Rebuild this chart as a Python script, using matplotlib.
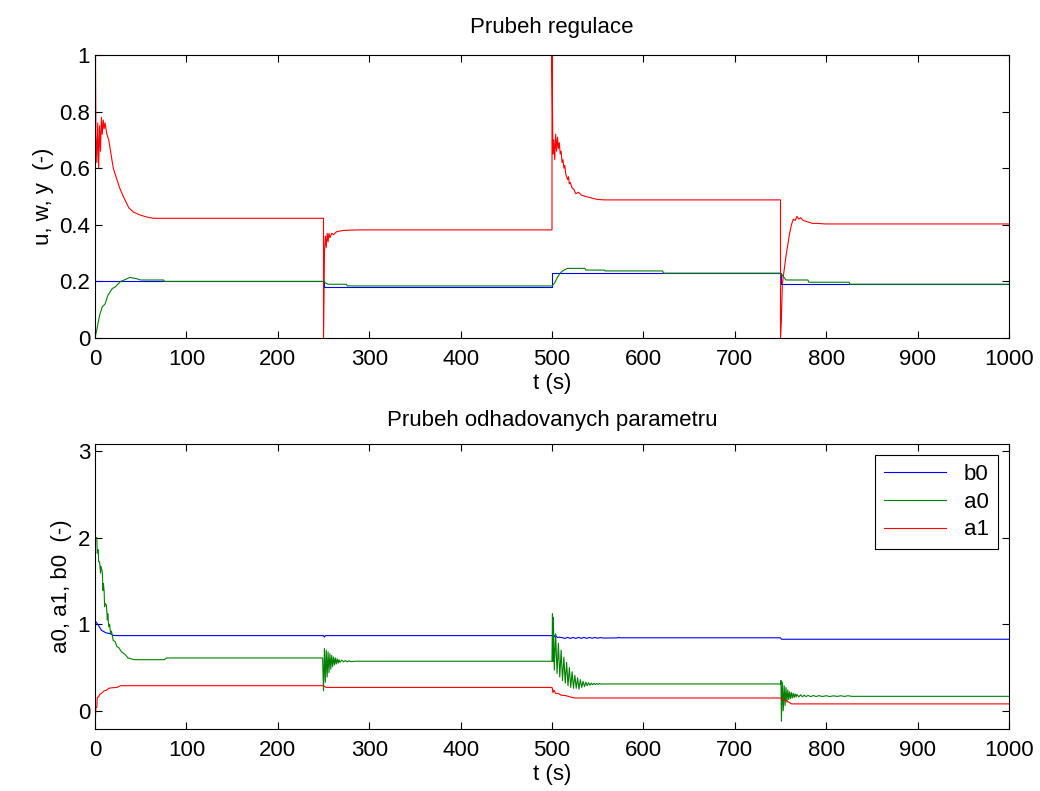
import matplotlib
matplotlib.use("Agg")
import matplotlib.pyplot as plt
import numpy as np

plt.rcParams['font.family'] = ['Liberation Sans', 'DejaVu Sans']

# ---------------- top plot: u (red), w (blue), y (green) ----------------
u_t = [0, 0.5, 1, 2, 3, 4, 5, 6, 7, 8, 9, 10, 11, 13, 15, 17, 20, 22, 24, 27, 31, 34, 37, 42, 49, 56, 64,
       250, 250, 251, 252, 253, 254, 255, 256, 257, 259, 261, 264, 268, 272, 278, 290, 300,
       500, 500, 501, 502, 503, 504, 505, 506, 507, 508, 509, 510, 511, 512, 513, 514, 515, 516, 517, 518, 519, 520,
       522, 524, 526, 529, 532, 537, 543, 549, 557,
       750, 750, 751, 752, 754, 756, 758, 760, 762, 764, 766, 768, 770, 772, 775, 780, 785, 790, 799, 1000]
u_v = [0.0, 1.0, 0.72, 0.62, 0.76, 0.60, 0.75, 0.66, 0.78, 0.72, 0.77, 0.74, 0.76, 0.72, 0.70, 0.66, 0.60, 0.58, 0.56, 0.53, 0.50, 0.48, 0.46, 0.445, 0.435, 0.428, 0.423,
       0.423, 0.0, 0.30, 0.36, 0.32, 0.37, 0.34, 0.37, 0.355, 0.37, 0.365, 0.375, 0.378, 0.38, 0.381, 0.382, 0.382,
       0.382, 1.0, 0.65, 0.70, 0.63, 0.72, 0.66, 0.71, 0.67, 0.69, 0.65, 0.66, 0.62, 0.63, 0.60, 0.61, 0.58, 0.57, 0.56, 0.57, 0.545, 0.55,
       0.53, 0.525, 0.51, 0.515, 0.505, 0.50, 0.495, 0.49, 0.488,
       0.488, 0.0, 0.07, 0.19, 0.24, 0.29, 0.33, 0.37, 0.40, 0.42, 0.415, 0.43, 0.42, 0.425, 0.415, 0.41, 0.405, 0.405, 0.403, 0.403]

w_t = [0, 250, 250, 500, 500, 750, 750, 1000]
w_v = [0.2, 0.2, 0.181, 0.181, 0.229, 0.229, 0.19, 0.19]

y_t = [0, 2, 5, 8, 11, 14, 16, 19, 22, 25, 28, 32, 38, 45, 50, 75, 76,
       250, 252, 255, 275, 276,
       500, 503, 506, 509, 512, 517, 536, 537, 557, 558, 621, 622,
       750, 752, 756, 780, 781, 825, 826, 1000]
y_v = [0.0, 0.03, 0.08, 0.11, 0.12, 0.15, 0.16, 0.175, 0.18, 0.19, 0.2, 0.205, 0.214, 0.21, 0.205, 0.205, 0.2,
       0.2, 0.195, 0.19, 0.19, 0.184,
       0.184, 0.195, 0.215, 0.229, 0.238, 0.246, 0.246, 0.240, 0.240, 0.237, 0.237, 0.229,
       0.229, 0.222, 0.205, 0.205, 0.197, 0.197, 0.19, 0.19]

# ---------------- bottom plot: estimated parameters ----------------
b0_t = [0, 3, 7, 12, 17, 20, 26, 250, 251, 252,
        500, 501, 502, 503, 504, 506, 508, 511, 514, 517, 520, 523, 526, 529, 532, 535, 538, 541, 544, 547, 550, 553, 556, 572, 573, 574,
        750, 751, 1000]
b0_v = [1.04, 1.0, 0.93, 0.9, 0.89, 0.87, 0.868, 0.868, 0.85, 0.868,
        0.868, 0.86, 0.875, 0.855, 0.87, 0.845, 0.85, 0.845, 0.835, 0.848, 0.835, 0.848, 0.835, 0.848, 0.836, 0.848, 0.836, 0.847, 0.838, 0.847, 0.838, 0.846, 0.84, 0.842, 0.848, 0.843,
        0.843, 0.826, 0.826]

a0_t = [0, 2, 2.5, 3, 3.5, 4, 5, 6, 6.5, 8, 8.8, 9.2, 10, 10.5, 11, 12.5, 13.5, 14, 15, 16, 17, 18, 20, 22, 24, 26, 29, 33, 36, 43, 76, 78,
        249, 250, 251, 252, 253, 254, 255, 256, 257, 258, 259, 260, 261, 262, 263, 264, 265, 266, 267, 268, 270, 272, 274, 276, 278, 280, 285,
        500, 500.5, 501, 501.5, 502.5, 504, 505.5, 507, 508.5, 510, 511.5, 513, 514.5, 516, 517.5, 519, 520.5, 522, 523.5, 525, 526.5, 528, 529.5,
        531, 532.5, 534, 535.5, 537, 538.5, 540, 541.5, 543, 544.5, 546, 547.5, 549, 550.5, 552, 553.5, 555,
        750, 750.5, 751, 752, 753, 754, 755, 756, 757, 758, 759, 760, 761, 762, 763, 764, 765, 766, 767, 768, 770, 772, 774, 776, 778, 780,
        783, 786, 789, 792, 796, 800, 804, 808, 812, 816, 820, 824, 828, 1000]
a0_v = [2.0, 2.0, 1.82, 1.86, 1.86, 1.72, 1.72, 1.59, 1.67, 1.6, 1.39, 1.47, 1.38, 1.2, 1.24, 1.22, 1.05, 1.12, 0.97, 1.0, 0.89, 0.92, 0.81, 0.8, 0.74, 0.73, 0.68, 0.65, 0.61, 0.59, 0.59, 0.61,
        0.61, 0.23, 0.72, 0.33, 0.70, 0.39, 0.68, 0.44, 0.66, 0.48, 0.64, 0.51, 0.62, 0.53, 0.61, 0.54, 0.60, 0.55, 0.59, 0.56, 0.585, 0.565, 0.58, 0.565, 0.578, 0.568, 0.572,
        0.572, 1.12, 0.57, 1.08, 0.47, 0.89, 0.43, 0.78, 0.39, 0.70, 0.35, 0.62, 0.32, 0.56, 0.29, 0.50, 0.27, 0.45, 0.26, 0.41, 0.26, 0.38, 0.25,
        0.36, 0.27, 0.34, 0.28, 0.33, 0.29, 0.325, 0.295, 0.32, 0.30, 0.318, 0.303, 0.316, 0.305, 0.315, 0.308, 0.31,
        0.31, 0.35, -0.12, 0.33, 0.0, 0.29, 0.06, 0.27, 0.10, 0.24, 0.13, 0.22, 0.14, 0.21, 0.15, 0.20, 0.155, 0.195, 0.16, 0.19, 0.16, 0.185, 0.162, 0.18, 0.163, 0.178,
        0.164, 0.176, 0.165, 0.175, 0.165, 0.174, 0.165, 0.173, 0.166, 0.174, 0.166, 0.174, 0.167, 0.167]

a1_t = [0, 0.2, 1, 2, 2.5, 4, 5, 7, 9, 10, 13, 15, 18, 24, 28, 250, 251, 253,
        500, 500.5, 501, 502, 504, 507, 510, 515, 520, 525,
        750, 751, 753, 756, 759, 762, 1000]
a1_v = [3.0, -0.15, 0.04, 0.04, 0.155, 0.16, 0.19, 0.2, 0.22, 0.23, 0.24, 0.26, 0.265, 0.27, 0.29, 0.29, 0.28, 0.27,
        0.27, 0.25, 0.21, 0.24, 0.2, 0.2, 0.18, 0.175, 0.16, 0.148,
        0.148, 0.14, 0.125, 0.12, 0.1, 0.08, 0.08]

x_ticks = [0, 100, 200, 300, 400, 500, 600, 700, 800, 900, 1000]
top_yticks = [0, 0.2, 0.4, 0.6, 0.8, 1]
bot_yticks = [0, 1, 2, 3]

RED = (1, 0, 0)
GREEN = (0, 0.5, 0)
BLUE = (0, 0, 1)
FS = 16
LW = 0.8

fig = plt.figure(figsize=(10.40, 7.91), dpi=100)
ax1 = fig.add_axes([95 / 1040, 1 - 338 / 791, 914 / 1040, 283 / 791])
ax2 = fig.add_axes([95 / 1040, 1 - 729 / 791, 914 / 1040, 285 / 791])

ax1.plot(u_t, u_v, color=RED, lw=LW)
ax1.plot(w_t, w_v, color=BLUE, lw=LW)
ax1.plot(y_t, y_v, color=GREEN, lw=LW)
ax1.set_xlim(0, 1000)
ax1.set_ylim(0, 1)
ax1.set_yticks(top_yticks)
ax1.set_yticklabels(['0', '0.2', '0.4', '0.6', '0.8', '1'])
ax1.set_title('Prubeh regulace', fontsize=FS, pad=16)
ax1.set_ylabel('u, w, y  (-)', fontsize=FS)

ax2.plot(b0_t, b0_v, color=BLUE, lw=LW, label='b0')
ax2.plot(a0_t, a0_v, color=GREEN, lw=LW, label='a0')
ax2.plot(a1_t, a1_v, color=RED, lw=LW, label='a1')
ax2.set_xlim(0, 1000)
ax2.set_ylim(-0.21, 3.08)
ax2.set_yticks(bot_yticks)
ax2.set_title('Prubeh odhadovanych parametru', fontsize=FS, pad=13)
ax2.set_ylabel('a0, a1, b0  (-)', fontsize=FS)
leg = ax2.legend(loc='upper right', fontsize=FS, fancybox=False, edgecolor='black',
                 framealpha=1, handlelength=2.8, borderaxespad=0.5, labelspacing=0.3)
leg.get_frame().set_linewidth(0.8)

for ax in (ax1, ax2):
    ax.set_xticks(x_ticks)
    ax.set_xlabel('t (s)', fontsize=FS, labelpad=2)
    ax.tick_params(direction='in', top=True, right=True, labelsize=FS, length=5, width=0.8)
    ax.tick_params(axis='x', pad=8)
    for s in ax.spines.values():
        s.set_linewidth(0.8)

fig.savefig('out.png', dpi=100)
